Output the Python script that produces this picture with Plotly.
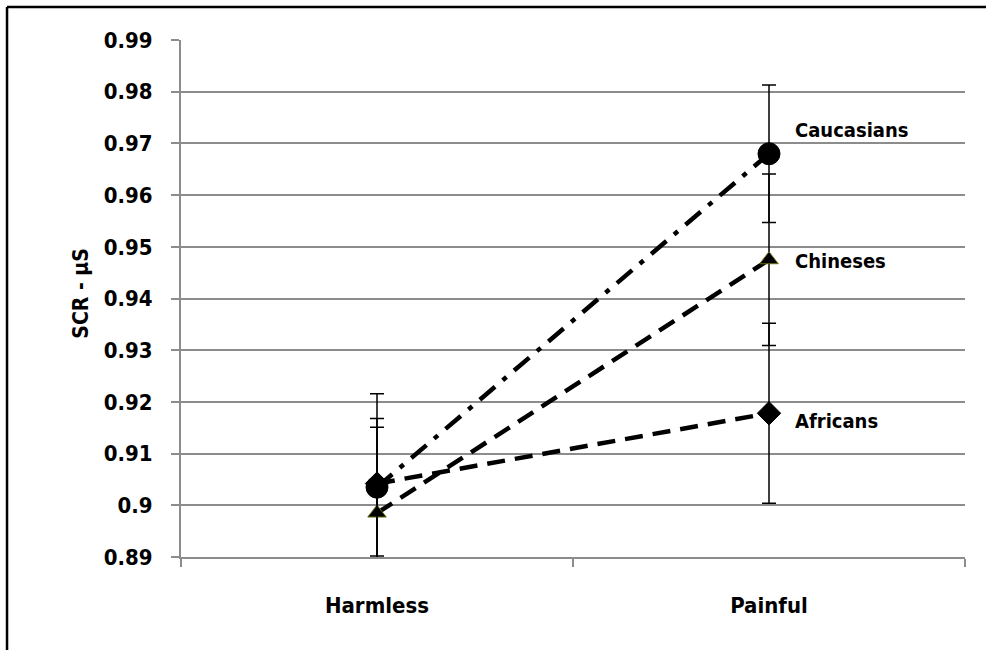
import plotly.graph_objects as go

categories = ["Harmless", "Painful"]
groups = ["Caucasians", "Chineses", "Africans"]
caucasians = [0.9035, 0.9680]
chineses = [0.8985, 0.9475]
africans = [0.9042, 0.9178]
err_caucasians = 0.0133
err_chineses = 0.0166
err_africans = 0.0174
y_ticks = [0.89, 0.90, 0.91, 0.92, 0.93, 0.94, 0.95, 0.96, 0.97, 0.98, 0.99]
y_tick_text = ["0.89", "0.9", "0.91", "0.92", "0.93", "0.94", "0.95", "0.96", "0.97", "0.98", "0.99"]

FONT = "DejaVu Sans Condensed, DejaVu Sans, sans-serif"

series = [
    ("Africans", africans, err_africans, "diamond", 18, "black", "18px,10px"),
    ("Chineses", chineses, err_chineses, "triangle-up", 16, "#6b6b10", "18px,10px"),
    ("Caucasians", caucasians, err_caucasians, "circle", 22, "black", "20px,10px,5px,10px"),
]

fig = go.Figure()
for name, vals, err, sym, size, edge, dash in series:
    fig.add_trace(go.Scatter(
        x=categories, y=vals, name=name, mode="lines+markers",
        line=dict(color="black", width=4.5, dash=dash),
        marker=dict(symbol=sym, size=size, color="black", line=dict(color=edge, width=1)),
        error_y=dict(type="constant", value=err, color="black", thickness=1.5, width=7),
        cliponaxis=True,
        showlegend=False,
    ))

label_y = {"Caucasians": 0.9726, "Chineses": 0.9472, "Africans": 0.9163}
for name in groups:
    fig.add_annotation(x=categories[1], y=label_y[name], text=f"<b>{name}</b>", showarrow=False,
                       xanchor="left", yanchor="middle", xshift=24,
                       font=dict(family=FONT, size=20, color="black"))

fig.add_annotation(xref="paper", yref="paper", x=-0.145, y=0.51, text="<b>SCR - µS</b>",
                   textangle=-90, showarrow=False, font=dict(family=FONT, size=21, color="black"))

# outer frame (left and top edges)
fig.add_shape(type="line", xref="paper", yref="paper", x0=-0.2219, x1=-0.2219, y0=-0.2, y1=1.0638,
              line=dict(color="black", width=2.5))
fig.add_shape(type="line", xref="paper", yref="paper", x0=-0.2219, x1=1.03, y0=1.0638, y1=1.0638,
              line=dict(color="black", width=2.5))

fig.update_layout(
    width=986, height=650,
    margin=dict(l=181, r=21, t=40, b=93),
    paper_bgcolor="white", plot_bgcolor="white",
    font=dict(family=FONT, color="black"),
    xaxis=dict(
        type="category", range=[-0.5, 1.5], tickson="boundaries",
        showgrid=False, showline=True, linecolor="#8c8c8c", linewidth=2,
        ticks="outside", ticklen=8, tickcolor="#8c8c8c", tickwidth=2,
        tickfont=dict(family=FONT, size=22, color="black"),
        tickvals=categories, ticktext=[f"<b>{c}</b>" for c in categories],
        ticklabelstandoff=28,
    ),
    yaxis=dict(
        range=[0.89, 0.99], tickvals=y_ticks, ticktext=[f"<b>{t}</b>" for t in y_tick_text],
        showgrid=True, gridcolor="#8c8c8c", gridwidth=2,
        showline=True, linecolor="#8c8c8c", linewidth=2,
        ticks="outside", ticklen=8, tickcolor="#8c8c8c", tickwidth=2,
        tickfont=dict(family=FONT, size=22, color="black"),
        ticklabelstandoff=14, zeroline=False,
    ),
)

fig.write_html("out.html")
